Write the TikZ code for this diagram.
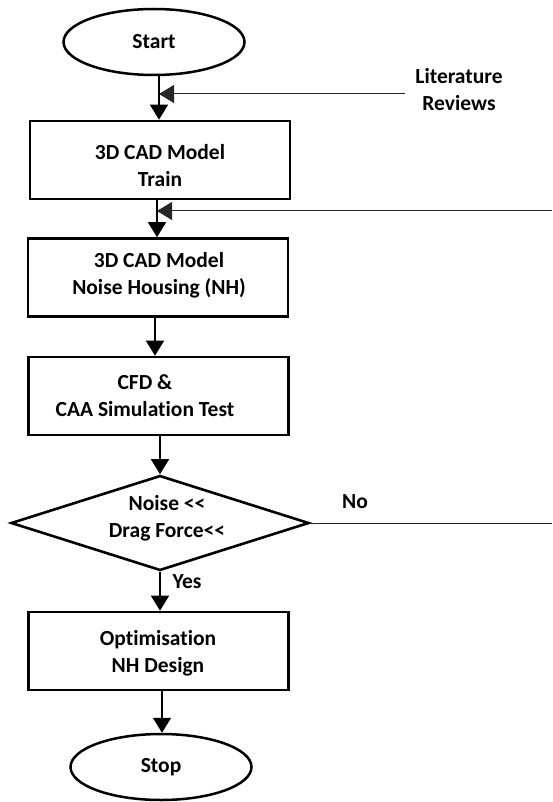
\documentclass[tikz,border=0pt]{standalone}
\usepackage{fontspec}
\setmainfont[Ligatures={NoCommon}]{Carlito}
\usetikzlibrary{shapes.geometric,arrows.meta}
\begin{document}
\begin{tikzpicture}[x=1pt,y=-1pt,
  every node/.style={font=\fontsize{21.5}{27}\selectfont\bfseries, inner sep=0pt},
  term/.style={draw, ellipse, line width=2.5pt, minimum width=181pt, minimum height=66pt},
  procbox/.style={draw, rectangle, line width=2.6pt, minimum width=260pt, minimum height=78pt},
  decision/.style={draw, diamond, line width=2.6pt, minimum width=298pt, minimum height=95pt, aspect=3.1},
  txt/.style={align=center},
  arr/.style={line width=1.5pt, -{Triangle[width=18pt,length=15pt]}},
  feed/.style={line width=1pt, black!85, -{Triangle[width=18pt,length=15pt]}},
  plain/.style={line width=1pt, black!85}]
\useasboundingbox (0,0) rectangle (552,802);
% shapes
\node[term] (start) at (154,42) {Start};
\node[procbox] (b1) at (160,160) {};
\node[txt] (b1t) at (160,166) {3D CAD Model\\Train};
\node[procbox] (b2) at (158,277.5) {};
\node[txt] (b2t) at (159,275) {3D CAD Model\\Noise Housing (NH)};
\node[procbox] (b3) at (158.5,396) {};
\node[txt] (b3t) at (145,396) {CFD \&\\CAA Simulat{}ion Test};
\node[decision] (d) at (160,523) {};
\node[txt] (dt) at (167,518) {Noise <{}<\\Drag Force<{}<};
\node[procbox] (b5) at (158.5,651) {};
\node[txt] (b5t) at (158,653) {Opt{}imisat{}ion\\NH Design};
\node[term] (stop) at (161,767) {Stop};
% side texts
\node[txt] (lit) at (459,90) {Literature\\Reviews};
\node (yes) at (187,582) {Yes};
\node (no) at (355,502) {No};
% coordinates
\coordinate (j1) at (159,94);
\coordinate (j2) at (157,211);
\coordinate (j3) at (155,300);
\coordinate (j6) at (162,700);
\coordinate (fbend) at (552,211);
\coordinate (noend) at (552,523);
\coordinate (litstart) at (405,94);
% main flow
\draw[arr] (j1 |- start.south) -- (j1 |- b1.north);
\draw[arr] (j2 |- b1.south) -- (j2 |- b2.north);
\draw[arr] (j3 |- b2.south) -- (j3 |- b3.north);
\draw[arr] (d.north |- b3.south) -- (d.north);
\draw[arr] (d.south) -- (d.south |- b5.north);
\draw[arr] (j6 |- b5.south) -- (j6 |- stop.north);
% feedback lines
\draw[feed] (litstart) -- (j1);
\draw[feed] (fbend) -- (j2);
\draw[plain] (d.east) -- (noend);
\end{tikzpicture}
\end{document}
